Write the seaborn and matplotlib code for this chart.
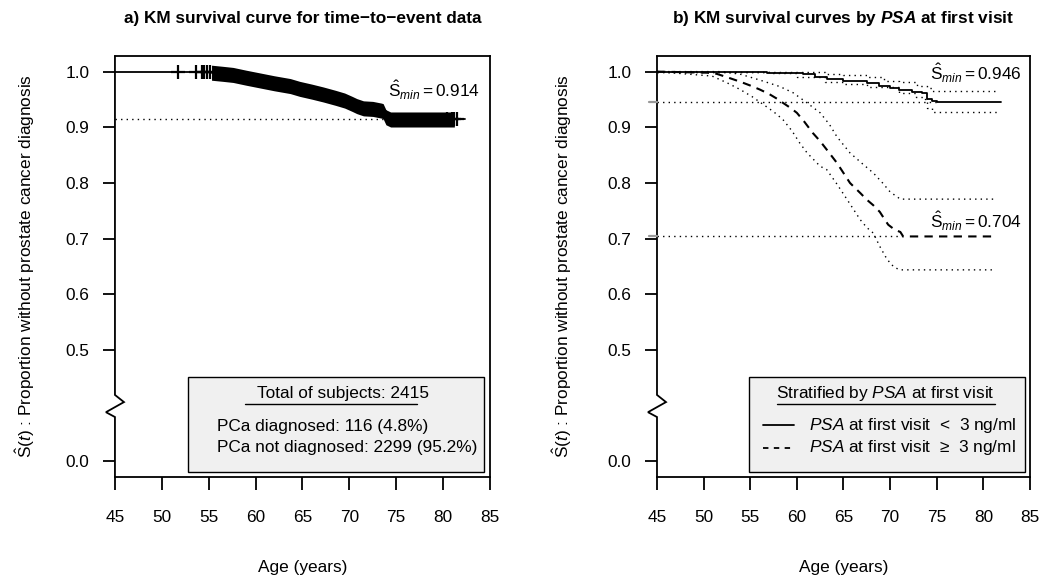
import numpy as np
import pandas as pd
import matplotlib
matplotlib.use("Agg")
import matplotlib.pyplot as plt
import seaborn as sns
from matplotlib.patches import Rectangle

sns.set_theme(style="white")
plt.rcParams['font.family'] = ['Liberation Sans', 'DejaVu Sans']
plt.rcParams['mathtext.fontset'] = 'custom'
plt.rcParams['mathtext.rm'] = 'Liberation Sans'
plt.rcParams['mathtext.it'] = 'Liberation Sans:italic'
plt.rcParams['mathtext.bf'] = 'Liberation Sans:bold'
plt.rcParams['mathtext.bfit'] = 'Liberation Sans:italic:bold'
plt.rcParams['text.color'] = 'black'
plt.rcParams['axes.labelcolor'] = 'black'
plt.rcParams['xtick.color'] = 'black'
plt.rcParams['ytick.color'] = 'black'

# ---------------- data ----------------
# Panel a: overall KM curve
km_age = [45, 55.3, 56.5, 57.6, 59.0, 60.5, 62.0, 63.7, 64.7, 66.0, 67.2, 68.5, 69.5, 70.3, 70.8, 71.5, 72.5, 73.4, 73.6, 73.9, 74.4, 82.3]
km_surv = [1.0, 0.998, 0.996, 0.994, 0.989, 0.984, 0.979, 0.974, 0.969, 0.964, 0.959, 0.953, 0.948, 0.942, 0.938, 0.934, 0.933, 0.930, 0.929, 0.918, 0.914, 0.914]
censor_ages = [51.7, 53.6, 54.3, 54.5, 54.8, 55.1, 80.4, 81.0, 81.2, 81.5]
dense_censor_range = [55.3, 81.2]
smin_all = 0.914
smin_all_age = 74.4

# Panel b: stratified by PSA at first visit
lo_age = [45, 56.8, 58.5, 60.7, 62.0, 63.2, 65.0, 67.5, 68.8, 70.0, 71.0, 72.3, 73.4, 74.0, 74.5, 75.0, 81.9]
lo_surv = [1.0, 0.998, 0.997, 0.995, 0.990, 0.986, 0.984, 0.980, 0.975, 0.971, 0.967, 0.964, 0.962, 0.951, 0.948, 0.946, 0.946]
lo_up_age = [45, 57.0, 60.0, 63.0, 65.0, 67.5, 69.3, 71.0, 72.9, 74.0, 74.5, 81.5]
lo_up_surv = [1.0, 1.0, 0.999, 0.995, 0.993, 0.991, 0.984, 0.982, 0.975, 0.971, 0.966, 0.966]
lo_low_age = [45, 55.0, 57.0, 60.0, 63.0, 65.0, 67.5, 71.0, 72.8, 73.7, 74.0, 74.5, 81.5]
lo_low_surv = [1.0, 0.999, 0.997, 0.990, 0.982, 0.977, 0.973, 0.962, 0.955, 0.950, 0.935, 0.928, 0.928]

hi_age = [45, 50.5, 51.4, 52.5, 53.9, 55.0, 56.0, 57.0, 57.9, 58.5, 59.3, 60.0, 60.8, 61.7, 62.5, 63.2, 64.3, 65.0, 65.7, 66.8, 67.5, 68.2, 68.9, 69.4, 69.8, 70.5, 71.1, 71.4, 81.0]
hi_surv = [1.0, 0.998, 0.996, 0.990, 0.982, 0.975, 0.968, 0.960, 0.951, 0.944, 0.935, 0.926, 0.910, 0.890, 0.875, 0.860, 0.836, 0.818, 0.800, 0.782, 0.770, 0.760, 0.748, 0.735, 0.725, 0.716, 0.712, 0.704, 0.704]
hi_up_age = [45, 52.0, 54.0, 56.0, 58.2, 59.6, 61.0, 62.5, 63.5, 64.3, 65.7, 67.0, 68.2, 69.2, 70.0, 71.1, 81.5]
hi_up_surv = [1.0, 1.0, 0.995, 0.985, 0.973, 0.962, 0.945, 0.926, 0.905, 0.883, 0.854, 0.835, 0.818, 0.800, 0.784, 0.771, 0.771]
hi_low_age = [45, 50.9, 52.5, 53.9, 55.2, 56.4, 57.5, 58.5, 59.5, 60.3, 61.1, 62.5, 63.2, 64.3, 65.4, 66.1, 66.8, 67.5, 68.2, 68.9, 69.5, 70.0, 70.5, 71.1, 81.0]
hi_low_surv = [1.0, 0.992, 0.980, 0.968, 0.955, 0.941, 0.928, 0.914, 0.893, 0.872, 0.854, 0.830, 0.824, 0.798, 0.770, 0.752, 0.734, 0.720, 0.710, 0.686, 0.668, 0.656, 0.648, 0.644, 0.644]
smin_lo, smin_lo_age = 0.946, 75.0
smin_hi, smin_hi_age = 0.704, 71.4

ytick_pos = [0.3, 0.5, 0.6, 0.7, 0.8, 0.9, 1.0]
ytick_labels = ['0.0', '0.5', '0.6', '0.7', '0.8', '0.9', '1.0']
xticks = [45, 50, 55, 60, 65, 70, 75, 80, 85]

n_total, n_dx, n_nodx = 2415, 116, 2299
pct_dx, pct_nodx = 4.8, 95.2

# ---------------- figure ----------------
FS = 12.4
LW = 1.3
fig = plt.figure(figsize=(10.45, 5.78), dpi=100)
ax1 = fig.add_axes([0.1100, 0.1747, 0.3589, 0.7284])
ax2 = fig.add_axes([0.6287, 0.1747, 0.3569, 0.7284])

dotted = (0, (1, 3))
dashed = (0, (4, 3))


def style_axes(ax, ylabel_x):
    ax.set_xlim(45, 85)
    ax.set_ylim(0.272, 1.028)
    ax.set_xticks(xticks)
    ax.set_xticklabels([str(v) for v in xticks])
    ax.set_yticks(ytick_pos)
    ax.set_yticklabels(ytick_labels)
    ax.tick_params(axis='x', length=9, width=LW, pad=15, labelsize=FS, colors='black', bottom=True)
    ax.tick_params(axis='y', length=8.5, width=LW, pad=10, labelsize=FS, colors='black', left=True)
    for s in ['top', 'right', 'bottom']:
        ax.spines[s].set_visible(True)
        ax.spines[s].set_color('black')
        ax.spines[s].set_linewidth(LW)
    ax.spines['left'].set_visible(False)
    # left axis line with a break (zigzag)
    dx = 9.0 / (ax.get_position().width * 1045)
    zx = [0, 0, dx, -dx, 0, 0]
    zy = [1.0, 0.195, 0.178, 0.154, 0.1425, 0.0]
    ax.plot(zx, zy, color='black', lw=LW, transform=ax.transAxes, clip_on=False,
            solid_joinstyle='miter')
    ax.set_xlabel('')
    ax.set_ylabel('')
    ax.text(0.5, -0.214, 'Age (years)', transform=ax.transAxes, ha='center', va='center', fontsize=FS)
    ax.text(ylabel_x, 0.5, r'$\hat{\mathrm{S}}(\mathit{t})$ : Proportion without prostate cancer diagnosis',
            transform=ax.transAxes, ha='center', va='center', rotation=90, fontsize=FS)


# ---- Panel a ----
sns.lineplot(x=km_age, y=km_surv, ax=ax1, color='black', lw=LW, drawstyle='steps-post',
             estimator=None, sort=False)
band = pd.DataFrame({'age': km_age, 'surv': km_surv})
band = band[(band['age'] >= dense_censor_range[0]) & (band['age'] <= dense_censor_range[1])]
band_age = list(band['age']) + [dense_censor_range[1]]
band_surv = list(band['surv']) + [band['surv'].iloc[-1]]
half = 0.0135
ax1.fill_between(band_age, np.array(band_surv) - half, np.array(band_surv) + half,
                 color='black', lw=0)
cens_y = [km_surv[max(i for i, a in enumerate(km_age) if a <= c)] for c in censor_ages]
ax1.plot(censor_ages, cens_y, ls='none', marker='+', ms=10, mew=1.6, color='black')
ax1.plot([45, smin_all_age], [smin_all, smin_all], color='black', lw=1.0, ls=dotted)
ax1.text(79.0, 0.966, r'$\hat{\mathrm{S}}_{\mathit{min}} = %.3f$' % smin_all, ha='center', va='center', fontsize=FS)
style_axes(ax1, -0.24)
ax1.text(0.5, 1 + 38 / 421, 'a) KM survival curve for time\u2212to\u2212event data', transform=ax1.transAxes,
         ha='center', va='center', fontsize=FS, fontweight='bold')

# legend box a
ax1.add_patch(Rectangle((0.195, 0.012), 0.789, 0.2255, transform=ax1.transAxes,
                        facecolor='#F0F0F0', edgecolor='black', lw=1.0, zorder=5))
ax1.text(0.608, 0.199, 'Total of subjects: %d' % n_total, transform=ax1.transAxes,
         ha='center', va='center', fontsize=FS, zorder=6)
ax1.plot([0.347, 0.806], [0.173, 0.173], color='black', lw=1.0, transform=ax1.transAxes, zorder=6)
ax1.text(0.272, 0.121, 'PCa diagnosed: %d (%.1f%%)' % (n_dx, pct_dx), transform=ax1.transAxes,
         ha='left', va='center', fontsize=FS, zorder=6)
ax1.text(0.272, 0.069, 'PCa not diagnosed: %d (%.1f%%)' % (n_nodx, pct_nodx), transform=ax1.transAxes,
         ha='left', va='center', fontsize=FS, zorder=6)

# ---- Panel b ----
for a, s in [(lo_up_age, lo_up_surv), (lo_low_age, lo_low_surv)]:
    sns.lineplot(x=a, y=s, ax=ax2, color='black', lw=1.0, linestyle=dotted, drawstyle='steps-post',
                 estimator=None, sort=False)
for a, s in [(hi_up_age, hi_up_surv), (hi_low_age, hi_low_surv)]:
    sns.lineplot(x=a, y=s, ax=ax2, color='black', lw=1.0, linestyle=dotted,
                 estimator=None, sort=False)
ax2.plot([45, smin_lo_age], [smin_lo, smin_lo], color='black', lw=1.0, ls=dotted)
ax2.plot([45, smin_hi_age], [smin_hi, smin_hi], color='black', lw=1.0, ls=dotted)
sns.lineplot(x=hi_age, y=hi_surv, ax=ax2, color='black', lw=1.5, linestyle=dashed,
             estimator=None, sort=False)
sns.lineplot(x=lo_age, y=lo_surv, ax=ax2, color='black', lw=LW, drawstyle='steps-post',
             estimator=None, sort=False)
ax2.text(79.2, 0.997, r'$\hat{\mathrm{S}}_{\mathit{min}} = %.3f$' % smin_lo, ha='center', va='center', fontsize=FS)
ax2.text(79.2, 0.731, r'$\hat{\mathrm{S}}_{\mathit{min}} = %.3f$' % smin_hi, ha='center', va='center', fontsize=FS)
style_axes(ax2, -0.255)
# gray ticks at the minimum values
for v in [smin_lo, smin_hi]:
    ax2.plot([-0.022, 0], [v, v], color='#999999', lw=1.6, transform=ax2.get_yaxis_transform(), clip_on=False)
ax2.text(0.5, 1 + 38 / 421, r'b) KM survival curves by $\mathbfit{PSA}$ at first visit', transform=ax2.transAxes,
         ha='center', va='center', fontsize=FS, fontweight='bold')

# legend box b
ax2.add_patch(Rectangle((0.247, 0.012), 0.740, 0.2255, transform=ax2.transAxes,
                        facecolor='#F0F0F0', edgecolor='black', lw=1.0, zorder=5))
ax2.text(0.612, 0.199, r'Stratified by $\mathit{PSA}$ at first visit', transform=ax2.transAxes,
         ha='center', va='center', fontsize=FS, zorder=6)
ax2.plot([0.322, 0.906], [0.173, 0.173], color='black', lw=1.0, transform=ax2.transAxes, zorder=6)
ax2.plot([0.284, 0.367], [0.123, 0.123], color='black', lw=LW, transform=ax2.transAxes, zorder=6)
ax2.plot([0.284, 0.367], [0.069, 0.069], color='black', lw=LW, ls=(0, (3, 3)), transform=ax2.transAxes, zorder=6)
ax2.text(0.408, 0.123, r'$\mathit{PSA}$ at first visit  <  3 ng/ml', transform=ax2.transAxes,
         ha='left', va='center', fontsize=FS, zorder=6)
ax2.text(0.408, 0.069, r'$\mathit{PSA}$ at first visit  ' + '\u2265' + '  3 ng/ml',
         transform=ax2.transAxes, ha='left', va='center', fontsize=FS, zorder=6)

fig.savefig('out.png', dpi=100)
